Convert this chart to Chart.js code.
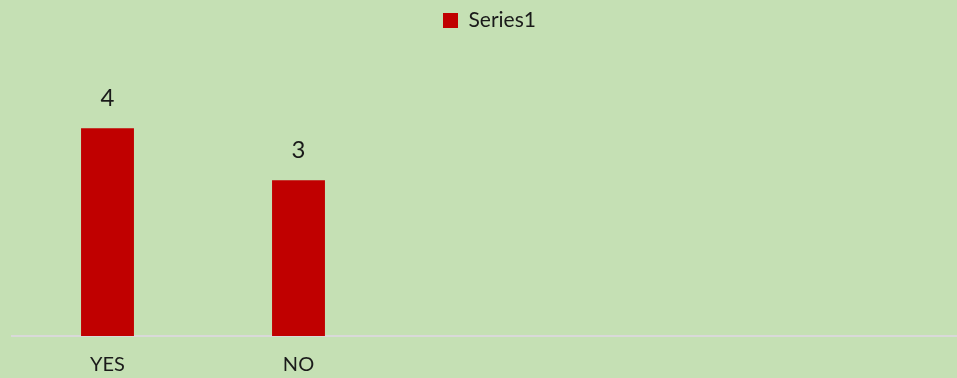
<!DOCTYPE html>
<html>
<head>
<meta charset="utf-8">
<script src="https://cdn.jsdelivr.net/npm/chart.js@4/dist/chart.umd.min.js"></script>
<style>
  html, body { margin: 0; padding: 0; background: #c5e0b4; overflow: hidden; }
  #wrap { position: relative; width: 967px; height: 394px; }
</style>
</head>
<body>
<div id="wrap"><canvas id="chart"></canvas></div>
<script>
// Category labels (trailing blanks keep the empty slots on the axis)
const categories = ['YES', 'NO', '', '', ''];
// Series values
const series1 = [4, 3, null, null, null];
const seriesName = 'Series1';

const textColor = '#1a1a1a';
const barColor = '#c00000';
const fontFamily = 'Lato, "Open Sans", sans-serif';

// Value labels above each bar
const valueLabels = {
  id: 'valueLabels',
  afterDatasetsDraw(chart) {
    const ctx = chart.ctx;
    const meta = chart.getDatasetMeta(0);
    ctx.save();
    ctx.font = '24px ' + fontFamily;
    ctx.fillStyle = textColor;
    ctx.textAlign = 'center';
    ctx.textBaseline = 'alphabetic';
    meta.data.forEach((bar, i) => {
      const v = chart.data.datasets[0].data[i];
      if (v === null || v === undefined) return;
      ctx.fillText(String(v), bar.x, bar.y - 22);
    });
    ctx.restore();
  }
};

new Chart(document.getElementById('chart'), {
  type: 'bar',
  data: {
    labels: categories,
    datasets: [{
      label: seriesName,
      data: series1,
      backgroundColor: barColor,
      borderWidth: 0,
      categoryPercentage: 1,
      barPercentage: 0.277
    }]
  },
  options: {
    responsive: true,
    maintainAspectRatio: false,
    animation: false,
    layout: { padding: { left: 12, right: 0, top: 0, bottom: 0 } },
    plugins: {
      legend: {
        position: 'top',
        labels: {
          color: textColor,
          font: { family: fontFamily, size: 21 },
          boxWidth: 15,
          boxHeight: 15,
          padding: 10
        }
      },
      tooltip: { enabled: false }
    },
    scales: {
      x: {
        grid: { display: false, drawTicks: false },
        border: { display: true, color: '#d9d9d9', width: 2 },
        ticks: {
          color: textColor,
          font: { family: fontFamily, size: 20 },
          padding: 17,
          maxRotation: 0
        }
      },
      y: {
        display: false,
        min: 0,
        max: 5.68
      }
    }
  },
  plugins: [valueLabels]
});
</script>
</body>
</html>
